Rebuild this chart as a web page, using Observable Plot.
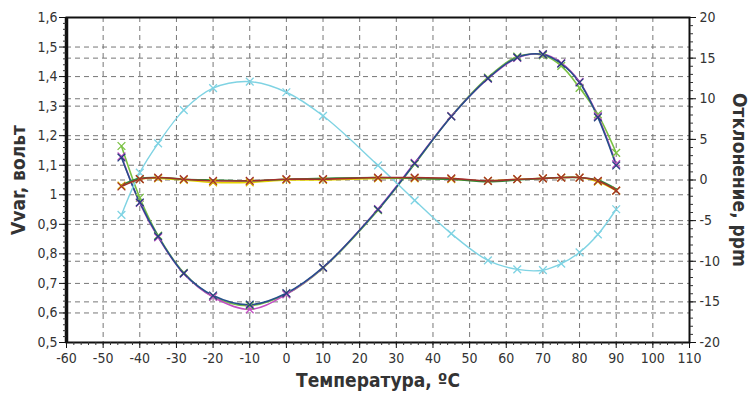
<!DOCTYPE html>
<html><head><meta charset="utf-8">
<script src="https://cdn.jsdelivr.net/npm/d3@7"></script>
<script src="https://cdn.jsdelivr.net/npm/@observablehq/plot@0.6"></script>
<style>
body{margin:0;background:#fff}
#chart{width:752px;height:396px}
</style></head><body><div id="chart"></div>
<script>
// ---- data ----
const temperatures = [-45,-40,-35,-28,-20,-10,0,10,25,35,45,55,63,70,75,80,85,90];
// Vvar, volts (left axis)
const vvarBlue    = [1.126,0.974,0.859,0.734,0.659,0.628,0.667,0.754,0.950,1.106,1.265,1.394,1.465,1.475,1.444,1.380,1.262,1.099];
const vvarGreen   = [1.165,0.990,0.862,0.736,0.655,0.625,0.664,0.752,0.948,1.104,1.266,1.397,1.468,1.472,1.436,1.362,1.272,1.142];
const vvarMagenta = [1.130,0.972,0.856,0.733,0.654,0.612,0.663,0.753,0.952,1.108,1.266,1.393,1.463,1.476,1.446,1.382,1.266,1.104];
// deviation, ppm (right axis)
const devCyan   = [-4.3,0.9,4.5,8.6,11.3,12.1,10.8,7.9,1.8,-2.5,-6.6,-9.9,-11.0,-11.1,-10.3,-8.9,-6.7,-3.6];
const devRed    = [-0.8,0.1,0.3,0.1,-0.1,-0.1,0.1,0.1,0.3,0.3,0.2,-0.1,0.1,0.2,0.3,0.3,-0.1,-1.3];
const devGreen  = [-0.6,0.2,0.3,0.1,0.0,-0.1,0.1,0.2,0.3,0.2,0.1,-0.2,0.0,0.2,0.3,0.3,0.0,-1.1];
const devYellow = [-0.7,0.1,0.2,0.0,-0.3,-0.3,0.0,0.0,0.2,0.2,0.1,-0.1,0.1,0.2,0.3,0.3,-0.2,-1.3];
// tick labels
const xTicks = [-60,-50,-40,-30,-20,-10,0,10,20,30,40,50,60,70,80,90,100,110];
const vTicks = [0.5,0.6,0.7,0.8,0.9,1.0,1.1,1.2,1.3,1.4,1.5,1.6];
const ppmTicks = [-20,-15,-10,-5,0,5,10,15,20];
const xTitle = "Температура, ºС";
const leftTitle = "Vvar, вольт";
const rightTitle = "Отклонение, ppm";

// ---- helpers ----
const ppmToV = p => 1.05 + p * 1.1 / 40;
const vToPpm = v => Math.round((v - 1.05) * 40 / 1.1);
const rows = temperatures.map((t, i) => ({
  t, vb: vvarBlue[i], vg: vvarGreen[i], vm: vvarMagenta[i],
  dc: ppmToV(devCyan[i]), dr: ppmToV(devRed[i]), dg: ppmToV(devGreen[i]), dy: ppmToV(devYellow[i])
}));
const range = (a, b, s) => d3.range(Math.round((b - a) / s) + 1).map(k => +(a + k * s).toFixed(4));
const xMinor = range(-60, 110, 2);
const vMinor = range(0.5, 1.6, 0.02);
const ppmMinor = range(-20, 20, 1).map(ppmToV);
const ppmTickV = ppmTicks.map(ppmToV);
const fmtV = d => String(+d.toFixed(1)).replace(".", ",");

const FONT = "'Liberation Sans Narrow','Arial Narrow','DejaVu Sans Condensed',sans-serif";
const grid = {stroke: "#777", strokeOpacity: 1, strokeDasharray: "5,4", strokeWidth: 1};
const lineOpt = {x: "t", curve: "catmull-rom", strokeWidth: 1.6};
const dotOpt = {x: "t", symbol: "times", r: 3.6, strokeWidth: 1.3};

const chart = Plot.plot({
  width: 752, height: 396,
  marginLeft: 66, marginRight: 63, marginTop: 17, marginBottom: 54,
  x: {domain: [-60, 110]},
  y: {domain: [0.5, 1.6]},
  style: {fontFamily: FONT, fontSize: "14px", color: "#333", background: "white", overflow: "visible"},
  marks: [
    Plot.gridX(xTicks.slice(1, -1), grid),
    Plot.gridY(vTicks.slice(1, -1), grid),
    Plot.gridY(ppmTickV.slice(1, -1), grid),
    // left (V) series
    Plot.line(rows, {...lineOpt, y: "vg", stroke: "#7ac143"}),
    Plot.line(rows, {...lineOpt, y: "vm", stroke: "#c34fc3"}),
    Plot.line(rows, {...lineOpt, y: "vb", stroke: "#25508a"}),
    Plot.dot(rows, {...dotOpt, y: "vg", stroke: "#7ac143"}),
    Plot.dot(rows, {...dotOpt, y: "vm", stroke: "#c34fc3"}),
    Plot.dot(rows, {...dotOpt, y: "vb", stroke: "#24407e"}),
    // right (ppm) series
    Plot.line(rows, {...lineOpt, y: "dc", stroke: "#7fd3e3", strokeWidth: 1.4}),
    Plot.dot(rows, {...dotOpt, y: "dc", stroke: "#7fd3e3"}),
    Plot.line(rows, {...lineOpt, y: "dy", stroke: "#e6d400"}),
    Plot.line(rows, {...lineOpt, y: "dg", stroke: "#2f8a3a"}),
    Plot.line(rows, {...lineOpt, y: "dr", stroke: "#a0302c"}),
    Plot.dot(rows, {...dotOpt, y: "dy", stroke: "#d9b400"}),
    Plot.dot(rows, {...dotOpt, y: "dr", stroke: "#a0302c"}),
    // frame & axes
    Plot.frame({stroke: "#111", strokeWidth: 2}),
    Plot.ruleX([-60], {stroke: "#111", strokeWidth: 3.5}),
    Plot.axisY(vMinor, {anchor: "left", tickSize: 3, tickFormat: () => "", label: null, stroke: "#333"}),
    Plot.axisY(vTicks, {anchor: "left", tickSize: 7, tickPadding: 2, tickFormat: fmtV, label: null, stroke: "#111"}),
    Plot.axisY(ppmMinor, {anchor: "right", tickSize: 3, tickFormat: () => "", label: null, stroke: "#333"}),
    Plot.axisY(ppmTickV, {anchor: "right", tickSize: 6, tickPadding: 4, tickFormat: vToPpm, label: null, stroke: "#111"}),
    Plot.axisX(xMinor, {anchor: "bottom", tickSize: 3, tickFormat: () => "", label: null, stroke: "#333"}),
    Plot.axisX(xTicks, {anchor: "bottom", tickSize: 6, tickPadding: 5, tickFormat: d => String(d), label: null, stroke: "#111"}),
    // axis titles
    Plot.text([leftTitle], {frameAnchor: "left", textAnchor: "middle", dx: -48, rotate: -90, fontWeight: "bold", fontSize: 19, fill: "#333"}),
    Plot.text([rightTitle], {frameAnchor: "right", textAnchor: "middle", dx: 50, rotate: 90, fontWeight: "bold", fontSize: 19, fill: "#333"}),
    Plot.text([xTitle], {frameAnchor: "bottom", textAnchor: "middle", dy: 44, fontWeight: "bold", fontSize: 19, fill: "#333"})
  ]
});
document.getElementById("chart").appendChild(chart);
</script></body></html>
